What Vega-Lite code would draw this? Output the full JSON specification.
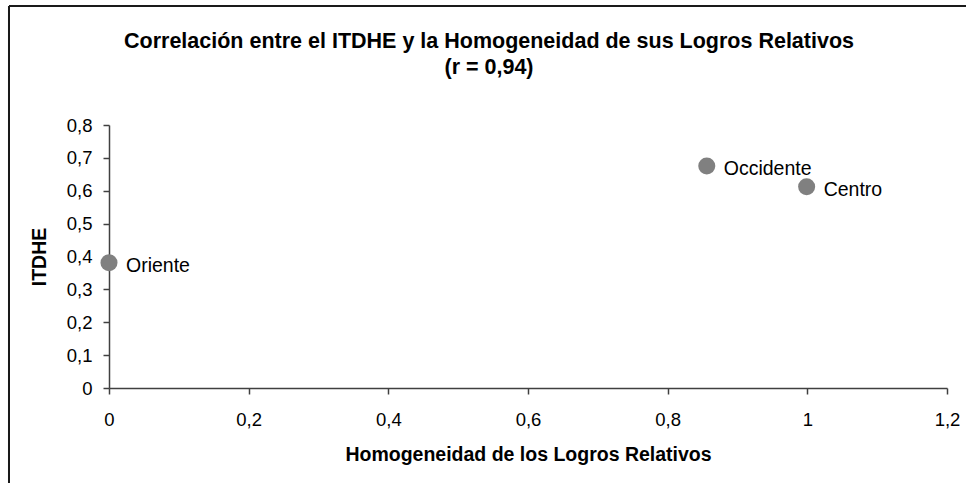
{
  "$schema": "https://vega.github.io/schema/vega-lite/v6.json",
  "width": 838,
  "height": 263,
  "autosize": {"type": "none"},
  "padding": {"left": 109, "top": 125, "right": 19, "bottom": 95},
  "background": "white",
  "config": {
    "view": {"stroke": null},
    "font": "Liberation Sans",
    "axis": {
      "grid": false,
      "domainColor": "#404040",
      "domainWidth": 1.5,
      "tickColor": "#404040",
      "tickWidth": 1.5,
      "tickSize": 6,
      "labelFontSize": 18.5,
      "labelColor": "black",
      "labelFont": "Liberation Sans",
      "titleFont": "Liberation Sans",
      "titleFontSize": 19.5,
      "titleFontWeight": "bold",
      "titleColor": "black",
      "labelOverlap": false,
      "labelFlush": false
    }
  },
  "title": {
    "text": ["Correlación entre el ITDHE y la Homogeneidad de sus Logros Relativos", "(r = 0,94)"],
    "fontSize": 21.5,
    "fontWeight": "bold",
    "font": "Liberation Sans",
    "color": "black",
    "anchor": "middle",
    "dx": -39,
    "offset": -74,
    "lineHeight": 26
  },
  "data": {
    "values": [
      {"region": "Oriente", "homogeneidad": 0.0, "itdhe": 0.381},
      {"region": "Occidente", "homogeneidad": 0.856, "itdhe": 0.675},
      {"region": "Centro", "homogeneidad": 0.999, "itdhe": 0.612}
    ]
  },
  "layer": [
    {
      "mark": {"type": "circle", "size": 290, "color": "#808080", "opacity": 1, "clip": false},
      "encoding": {
        "x": {
          "field": "homogeneidad",
          "type": "quantitative",
          "scale": {"domain": [0, 1.2], "nice": false, "zero": true},
          "axis": {
            "title": "Homogeneidad de los Logros Relativos",
            "values": [0, 0.2, 0.4, 0.6, 0.8, 1, 1.2],
            "tickCount": 20,
            "labelOverlap": false,
            "labelFlush": false,
            "labelExpr": "replace(format(datum.value, '~g'), '.', ',')",
            "labelPadding": 16,
            "titlePadding": 17
          }
        },
        "y": {
          "field": "itdhe",
          "type": "quantitative",
          "scale": {"domain": [0, 0.8], "nice": false, "zero": true},
          "axis": {
            "title": "ITDHE",
            "values": [0, 0.1, 0.2, 0.3, 0.4, 0.5, 0.6, 0.7, 0.8],
            "tickCount": 20,
            "labelOverlap": false,
            "labelExpr": "replace(format(datum.value, '~g'), '.', ',')",
            "labelPadding": 11,
            "titlePadding": 17
          }
        }
      }
    },
    {
      "mark": {"type": "text", "align": "left", "baseline": "middle", "dx": 17, "dy": 3, "fontSize": 19.5, "font": "Liberation Sans", "color": "black", "clip": false},
      "encoding": {
        "x": {"field": "homogeneidad", "type": "quantitative"},
        "y": {"field": "itdhe", "type": "quantitative"},
        "text": {"field": "region"}
      }
    },
    {
      "mark": {"type": "rule", "clip": false, "color": "#1a1a1a", "strokeWidth": 2},
      "encoding": {
        "x": {"datum": -0.1432, "type": "quantitative"},
        "x2": {"datum": 1.4},
        "y": {"datum": 1.162, "type": "quantitative"}
      }
    },
    {
      "mark": {"type": "rule", "clip": false, "color": "#1a1a1a", "strokeWidth": 2},
      "encoding": {
        "x": {"datum": -0.1432, "type": "quantitative"},
        "y": {"datum": 1.162, "type": "quantitative"},
        "y2": {"datum": -0.5}
      }
    }
  ]
}
